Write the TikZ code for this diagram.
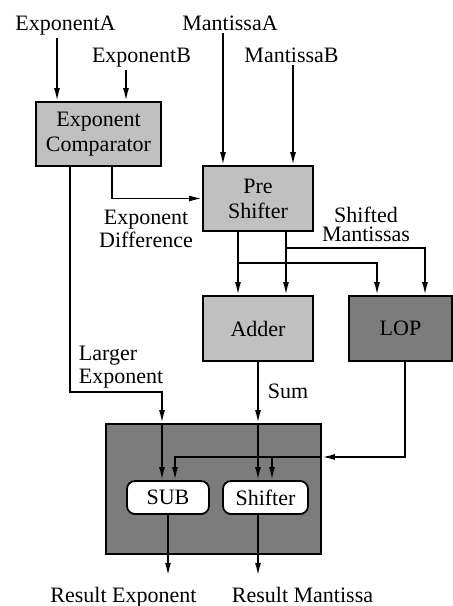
\documentclass[tikz,border=0pt]{standalone}
\usepackage{fontspec}
\setmainfont{Liberation Serif}
\usetikzlibrary{arrows.meta}
\definecolor{lightbox}{RGB}{192,192,192}
\definecolor{darkbox}{RGB}{124,124,124}
\begin{document}
\begin{tikzpicture}[
    x=0.5pt, y=-0.5pt,
    font=\fontsize{11}{11.5}\selectfont,
    line width=0.9pt,
    >={Latex[length=6.5pt,width=3pt]},
    lbl/.style={inner sep=1pt},
    blk/.style={draw, fill=lightbox, minimum height=32.5pt, align=center,
      inner sep=0pt, font=\fontsize{11}{12.5}\selectfont},
    part/.style={draw, fill=white, rounded corners=4pt, minimum height=16.5pt,
      inner sep=0pt}
  ]
  \useasboundingbox (0,0) rectangle (452,606);
  % inputs
  \node[lbl, anchor=base] (expA) at (65.5,30) {ExponentA};
  \node[lbl, anchor=base] (expB) at (141.5,62) {ExponentB};
  \node[lbl, anchor=base] (manA) at (230,30) {MantissaA};
  \node[lbl, anchor=base] (manB) at (291.5,62) {MantissaB};
  % blocks
  \node[blk, minimum width=62.5pt, minimum height=32pt] (cmp) at (98.5,134) {Exponent\\Comparator};
  \node[blk, minimum width=55pt] (pre) at (258,198.5) {Pre\\Shifter};
  \node[blk, minimum width=55pt] (add) at (258,328.5) {Adder};
  \node[blk, minimum width=51.5pt, fill=darkbox] (lop) at (400.5,328.5) {LOP};
  \node[draw, fill=darkbox, minimum width=107.5pt, minimum height=65pt] (unit) at (213.5,489) {};
  \node[part, minimum width=41pt] (sub) at (168,497.5) {SUB};
  \node[part, minimum width=42.5pt] (shf) at (265.5,497.5) {Shifter};
  % labels
  \node[lbl, align=center] (diffLbl) at (146,229) {Exponent\\Difference};
  \node[lbl, align=center, font=\fontsize{11}{9.5}\selectfont] (shLbl) at (366,224) {Shifted\\Mantissas};
  \node[lbl, align=left, anchor=north west] (largeLbl) at (76,343) {Larger\\Exponent};
  \node[lbl, anchor=base west] (sumLbl) at (265,398) {Sum};
  \node[inner sep=5pt, anchor=base] (resE) at (123.5,602) {Result Exponent};
  \node[inner sep=5pt, anchor=base] (resM) at (302.5,602) {Result Mantissa};
  % wire positions
  \coordinate (xa) at (57,0);
  \coordinate (xb) at (126,0);
  \coordinate (xma) at (223,0);
  \coordinate (xmb) at (293,0);
  \coordinate (xd) at (112,0);
  \coordinate (xl) at (70,0);
  \coordinate (turnL) at (162,392);
  \coordinate (xp1) at (238,0);
  \coordinate (xp2) at (286,0);
  \coordinate (b1) at (377,263);
  \coordinate (b2) at (425,248);
  \coordinate (lopOut) at (405,457);
  \coordinate (xsubB) at (175,0);
  \coordinate (xshB) at (272,0);
  \coordinate (xso) at (168,0);
  % connectors
  \draw[->] (expA.south -| xa) -- (cmp.north -| xa);
  \draw[->] (expB.south -| xb) -- (cmp.north -| xb);
  \draw[->] (manA.south -| xma) -- (pre.north -| xma);
  \draw[->] (manB.south -| xmb) -- (pre.north -| xmb);
  \draw[->] (cmp.south -| xd) |- (pre.west);
  \draw[->] (cmp.south -| xl) |- (turnL) -- (unit.north -| turnL);
  \draw[->] (unit.north -| turnL) -- (sub.north -| turnL);
  \draw[->] (pre.south -| xp1) -- (add.north -| xp1);
  \draw[->] (pre.south -| xp2) -- (add.north -| xp2);
  \draw[->] (pre.south -| xp1) |- (b1) -- (lop.north -| b1);
  \draw[->] (pre.south -| xp2) |- (b2) -- (lop.north -| b2);
  \draw[->] (add.south) -- (unit.north -| add.south);
  \draw[->] (unit.north -| add.south) -- (shf.north -| add.south);
  \draw[->] (lop.south -| lopOut) |- (unit.east |- lopOut);
  \draw[->] (unit.east |- lopOut) -| (sub.north -| xsubB);
  \draw[->] (xshB |- lopOut) -- (shf.north -| xshB);
  \draw[->] (sub.south -| xso) -- (resE.north -| xso);
  \draw[->] (shf.south -| add.south) -- (resM.north -| add.south);
\end{tikzpicture}
\end{document}
